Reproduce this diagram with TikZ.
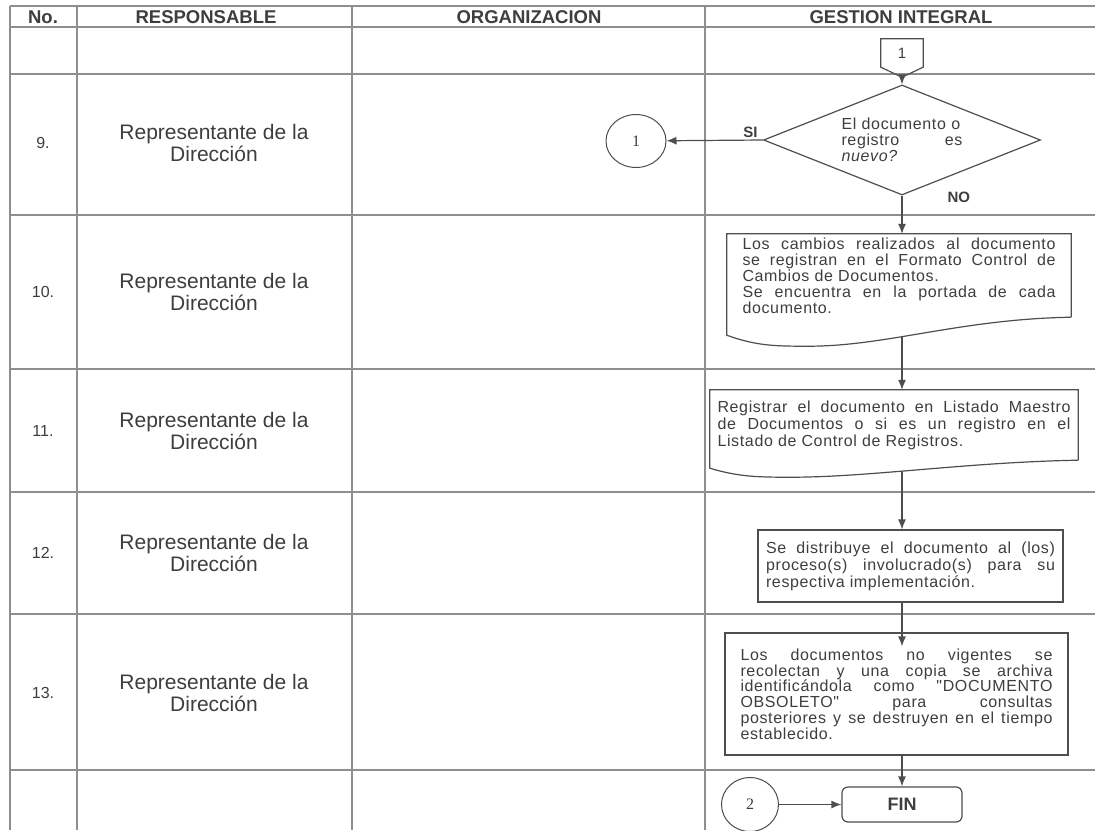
\documentclass[tikz,border=0pt]{standalone}
\usepackage{fontspec}
\setmainfont{Liberation Sans}
\newfontfamily\boxfont[LetterSpace=4]{Liberation Sans}
\newfontfamily\circfont{Liberation Serif}
\usetikzlibrary{shapes.geometric,arrows.meta,calc,positioning}
\definecolor{gridgray}{HTML}{8E8E8E}
\definecolor{ink}{HTML}{3E3E3E}
\definecolor{flow}{HTML}{4E4E4E}
\newcommand{\boxtext}[1]{\boxfont\fontsize{16}{#1}\selectfont\hyphenpenalty=10000\exhyphenpenalty=10000}
\newcommand{\docoutline}[3]{%
  \draw[flowline] (#1.south east) -- (#1.north east) -- (#1.north west)
    -- ([yshift=-#2pt]#1.south west)
    .. controls ([xshift=30pt,yshift=-#3pt]#1.south west) and ([xshift=50pt,yshift=-#3pt]#1.south west)
    .. ([xshift=82pt,yshift=-#3pt]#1.south west)
    .. controls ([xshift=160pt,yshift=-#3pt]#1.south west) and ([xshift=-112pt,yshift=-2pt]#1.south east)
    .. (#1.south east);
}

\begin{document}
\begin{tikzpicture}[x=1pt, y=-1pt]
  \tikzset{
    grid/.style={draw=gridgray, line width=1.2pt},
    flowline/.style={draw=flow, line width=1.2pt},
    arrow/.style={flowline, -{Latex[length=10pt,width=8pt]}},
    headtext/.style={font=\bfseries\fontsize{18.5}{20}\selectfont, text=ink, inner sep=0pt},
    numtext/.style={font=\fontsize{16}{18}\selectfont, text=ink, inner sep=0pt},
    resptext/.style={font=\fontsize{21}{22}\selectfont, text=ink, align=center, inner sep=0pt},
    docbox/.style={inner sep=0pt, align=justify, text=ink},
    procbox/.style={docbox, flowline},
    decision/.style={diamond, flowline, aspect=2.5, inner sep=0pt,
      minimum width=277pt, minimum height=110pt, text width=121pt, align=left,
      text=ink, font=\boxtext{16}},
    offpage/.style={minimum width=42pt, minimum height=28pt, inner sep=0pt,
      text=ink, font=\fontsize{15}{15}\selectfont},
    connector/.style={ellipse, draw=flow, line width=1pt, inner sep=0pt,
      text=ink, font=\circfont\fontsize{16}{16}\selectfont},
    terminal/.style={flowline, rounded corners=6pt, minimum width=120pt,
      minimum height=35pt, text=ink, font=\bfseries\fontsize{18}{18}\selectfont},
    flowlabel/.style={inner sep=2pt, text=ink, font=\bfseries\fontsize{15}{15}\selectfont}
  }
  \useasboundingbox (0,0) rectangle (1095,830);
  \fill[white] (0,0) rectangle (1095,830);

  \foreach \y in {6,27,74,215,369,492,614,770}
    \draw[grid] (10,\y) -- (1095,\y);
  \foreach \x in {10,77,352,705}
    \draw[grid] (\x,6) -- (\x,830);

  \node[headtext] (hNo) at (43,17) {No.};
  \node[headtext] (hResp) at (206,17) {RESPONSABLE};
  \node[headtext] (hOrg) at (529,17) {ORGANIZACION};
  \node[headtext] (hGest) at (901,17) {GESTION INTEGRAL};

  \foreach \n/\y in {9/143,10/292,11/431,12/553,13/693} {
    \node[numtext] (num\n) at (43,\y) {\n.};
    \node[resptext] (resp\n) at (214,\y) {Representante de la\\Dirección};
  }

  \node[offpage] (off1) at (902,53) {\raisebox{-3pt}{1}};
  \draw[flowline] (off1.south east) -- (off1.north east) -- (off1.north west)
    -- (off1.south west) -- ([yshift=-10pt]off1.south) -- cycle;
  \coordinate (off1tip) at ([yshift=-10pt]off1.south);

  \node[decision] (dec) at (902,140) {El documento o\\registro\hfill es\\\textit{nuevo?}};
  \node[connector, minimum width=60pt, minimum height=53pt] (c1) at (636,141) {1};

  \node[docbox, minimum width=344pt, minimum height=83pt, text width=313pt,
    font=\boxtext{16}] (doc1) at (899,275.5)
    {Los cambios realizados al documento\linebreak se registran en el Formato Control de\linebreak Cambios de Documentos.\\Se encuentra en la portada de cada\linebreak documento.};
  \docoutline{doc1}{18}{29}

  \node[docbox, minimum width=368pt, minimum height=70pt, text width=353pt,
    font=\boxtext{17}] (doc2) at (894,425)
    {Registrar el documento en Listado Maestro\linebreak de Documentos o si es un registro en el\linebreak Listado de Control de Registros.};
  \docoutline{doc2}{8}{17}

  \node[procbox, draw, minimum width=305pt, minimum height=72pt, text width=289pt,
    font=\boxtext{17}] (proc3) at (910.5,566)
    {Se distribuye el documento al (los)\linebreak proceso(s) involucrado(s) para su\linebreak respectiva implementación.};

  \node[procbox, draw, minimum width=343pt, minimum height=122pt, text width=312pt,
    font=\boxtext{15.8}] (proc4) at (896.5,694)
    {Los documentos no vigentes se\linebreak recolectan y una copia se archiva\linebreak identificándola como "DOCUMENTO\linebreak OBSOLETO" para consultas\linebreak posteriores y se destruyen en el tiempo\linebreak establecido.};

  \node[terminal, draw] (fin) at (902,804.5) {FIN};
  \node[connector, minimum width=57pt, minimum height=54pt] (c2) at (750,804.5) {2};

  \draw[arrow] (off1tip) -- (dec.north);
  \draw[arrow] (dec.west) -- node[flowlabel, above, pos=0.13] {SI} (c1);
  \draw[arrow] (dec.south) -- node[flowlabel, pos=0.05, anchor=west, xshift=43pt] {NO} (dec.south |- doc1.north);
  \draw[arrow] ($(dec.south |- doc1.south)+(0,19)$) -- (dec.south |- doc2.north);
  \draw[arrow] ($(dec.south |- doc2.south)+(0,11)$) -- (dec.south |- proc3.north);
  \draw[arrow, shorten >=-14pt] (dec.south |- proc3.south) -- (dec.south |- proc4.north);
  \draw[arrow] (fin.north |- proc4.south) -- (fin.north);
  \draw[arrow] (c2) -- (fin);
\end{tikzpicture}
\end{document}
